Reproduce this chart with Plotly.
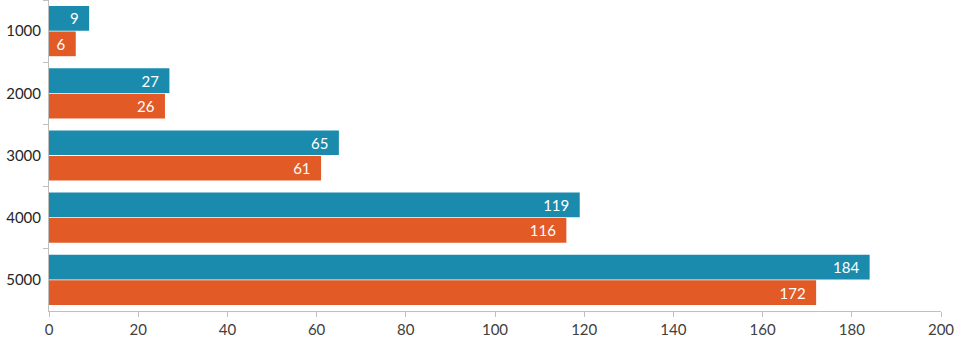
import plotly.graph_objects as go

categories = ["1000", "2000", "3000", "4000", "5000"]
series_a = [9, 27, 65, 119, 184]
series_b = [6, 26, 61, 116, 172]
x_ticks = [0, 20, 40, 60, 80, 100, 120, 140, 160, 180, 200]

teal = "#1B8BAD"
orange = "#E25A26"

fig = go.Figure()
for vals, col in [(series_a, teal), (series_b, orange)]:
    fig.add_trace(go.Bar(
        y=categories, x=vals, orientation="h",
        marker=dict(color=col, line=dict(width=0)),
        text=[f"{v}\u2002" for v in vals], textposition="inside",
        insidetextanchor="end",
        textfont=dict(color="white", size=15, family="Lato"),
        cliponaxis=False,
    ))

fig.update_layout(
    width=954, height=339,
    margin=dict(l=49, r=13, t=0, b=28, autoexpand=False),
    paper_bgcolor="white", plot_bgcolor="white",
    barmode="group", bargap=0.18, bargroupgap=0.03,
    showlegend=False,
    font=dict(family="Lato", size=15, color="#404040"),
    uniformtext=dict(mode=False),
)
fig.update_xaxes(
    range=[0, 200], tickvals=x_ticks, showgrid=False, zeroline=False,
    showline=True, linecolor="#BFBFBF", linewidth=1, automargin=False,
    ticks="outside", ticklen=5, tickcolor="#BFBFBF",
    ticklabeloverflow="allow",
    tickfont=dict(size=15, color="#404040"),
)
fig.update_yaxes(
    autorange="reversed", showgrid=False, zeroline=False, automargin=False,
    showline=True, linecolor="#BFBFBF", linewidth=1,
    ticks="outside", ticklen=5, tickcolor="#BFBFBF", tickson="boundaries",
    tickfont=dict(size=15, color="#262626"), ticklabelstandoff=4,
)

fig.write_html(
    "out.html",
    config={"displayModeBar": False},
    post_script="document.body.style.margin='0';document.body.style.overflow='hidden';",
)
